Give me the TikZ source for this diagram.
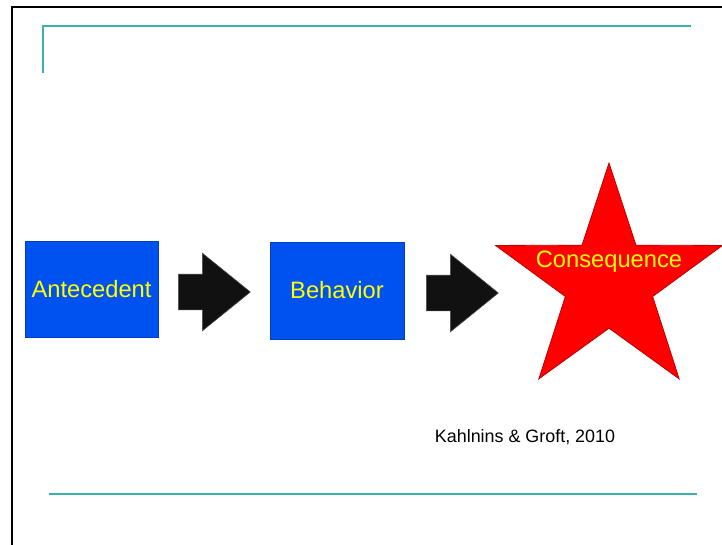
\documentclass[tikz,border=0pt]{standalone}
\usepackage{fontspec}
\setmainfont{Liberation Sans}
\usetikzlibrary{shapes.geometric,shapes.arrows}

\definecolor{boxblue}{RGB}{0,82,240}
\definecolor{boxedge}{RGB}{0,64,192}
\definecolor{starred}{RGB}{255,0,0}
\definecolor{staredge}{RGB}{190,0,0}
\definecolor{txtyellow}{RGB}{255,255,0}
\definecolor{ruleteal}{RGB}{60,176,176}
\definecolor{arrowfill}{RGB}{17,17,17}

\begin{document}
\begin{tikzpicture}[
    x=1pt, y=-1pt,
    step box/.style={rectangle,fill=boxblue,draw=boxedge,line width=0.8pt,
        inner sep=0pt,text=txtyellow,font=\fontsize{23.7}{28}\selectfont},
    block arrow/.style={single arrow,fill=arrowfill,draw=black!70,line width=0.6pt,
        inner xsep=0pt,inner ysep=17.5pt,minimum height=72pt,minimum width=77pt,
        single arrow head extend=21pt,single arrow head indent=0pt,
        single arrow tip angle=78,anchor=tail},
    teal rule/.style={ruleteal,line width=2pt}
]

\useasboundingbox (0,0) rectangle (722,544);

% slide frame and rules
\draw[line width=2pt] (12,550) -- (12,7) -- (730,7);
\draw[teal rule] (43,73) -- (43,25.7) -- (691,25.7);
\draw[teal rule] (49,494) -- (697,494);

% the three steps
\node[step box,minimum width=133pt,minimum height=96pt] (ante) at (91.5,289.5) {Antecedent};
\node[step box,minimum width=134pt,minimum height=97pt] (behav) at (337,290.5) {Behavior};

\node[star,star points=5,star point ratio=2.6,fill=starred,draw=staredge,
    line width=0.8pt,inner sep=0pt,minimum size=238.6pt] (cons) at (609,282.3) {};
\node[text=txtyellow,font=\fontsize{23.7}{28}\selectfont] (conslbl) at (609,262) {Consequence};

% arrows between the steps
\node[block arrow] (arr1) at (178,292) {};
\node[block arrow] (arr2) at (426,293) {};

\node[font=\fontsize{17.9}{21}\selectfont] (cite) at (525,437) {Kahlnins \& Groft, 2010};

\end{tikzpicture}
\end{document}
